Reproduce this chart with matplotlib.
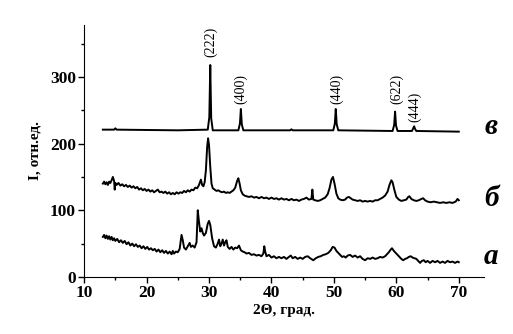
import matplotlib
matplotlib.use('Agg')
import matplotlib.pyplot as plt
import numpy as np
from matplotlib.ticker import MultipleLocator

# Дифрактограми: (2Θ, I)
a_pts = [
    (13.0, 60), (13.2, 63), (13.4, 58), (13.6, 62), (13.8, 57), (14.0, 61), (14.2, 56), (14.4, 60),
    (14.6, 55), (14.8, 58), (15.0, 54), (15.3, 57), (15.6, 52), (15.9, 55), (16.2, 51), (16.5, 54),
    (16.8, 49), (17.1, 52), (17.4, 47), (17.7, 50), (18.0, 46), (18.3, 49), (18.6, 45), (18.9, 47),
    (19.2, 43), (19.5, 46), (19.8, 42), (20.1, 45), (20.4, 41), (20.7, 43), (21.0, 40), (21.3, 42),
    (21.6, 38), (21.9, 41), (22.2, 37), (22.5, 40), (22.8, 36), (23.1, 39), (23.4, 35), (23.7, 38),
    (24.0, 34), (24.2, 39), (24.4, 35), (24.7, 38), (25.0, 37), (25.3, 42), (25.6, 63), (25.8, 55),
    (26.0, 44), (26.3, 41), (26.6, 46), (26.9, 51), (27.1, 45), (27.4, 47), (27.7, 44), (28.0, 52),
    (28.2, 100), (28.4, 82), (28.6, 68), (28.8, 73), (29.0, 66), (29.2, 62), (29.5, 66), (29.8, 80),
    (30.0, 84), (30.2, 78), (30.5, 58), (30.8, 46), (31.1, 44), (31.4, 50), (31.6, 56), (31.8, 46),
    (32.0, 50), (32.2, 56), (32.4, 47), (32.6, 52), (32.8, 55), (33.0, 45), (33.3, 42), (33.6, 45),
    (33.9, 41), (34.2, 44), (34.5, 43), (34.8, 47), (35.1, 40), (35.4, 38), (35.7, 37), (36.0, 35),
    (36.4, 36), (36.8, 33), (37.2, 34), (37.6, 32), (38.0, 33), (38.4, 31), (38.7, 35), (38.85, 46),
    (39.0, 38), (39.2, 31), (39.6, 33), (40.0, 29), (40.4, 31), (40.8, 28), (41.2, 30), (41.6, 28),
    (42.0, 30), (42.4, 27), (42.8, 30), (43.1, 32), (43.4, 28), (43.8, 30), (44.2, 27), (44.6, 29),
    (45.0, 27), (45.4, 30), (45.8, 31), (46.2, 28), (46.7, 25), (47.1, 28), (47.5, 30), (47.9, 31),
    (48.3, 33), (48.7, 34), (49.1, 36), (49.5, 40), (49.8, 45), (50.1, 44), (50.4, 39), (50.7, 36),
    (51.0, 33), (51.3, 30), (51.6, 31), (51.9, 29), (52.2, 32), (52.6, 33), (53.0, 30), (53.4, 32),
    (53.8, 29), (54.2, 31), (54.6, 27), (55.0, 25), (55.4, 28), (55.8, 27), (56.2, 29), (56.6, 27),
    (57.0, 28), (57.4, 30), (57.8, 29), (58.2, 31), (58.5, 34), (58.8, 37), (59.1, 41), (59.3, 43),
    (59.6, 39), (59.9, 36), (60.2, 33), (60.5, 30), (60.8, 27), (61.1, 25), (61.4, 27), (61.7, 28),
    (62.0, 30), (62.3, 31), (62.6, 29), (62.9, 28), (63.2, 27), (63.5, 24), (63.8, 21), (64.1, 24),
    (64.4, 25), (64.7, 22), (65.0, 24), (65.4, 21), (65.8, 24), (66.2, 22), (66.6, 24), (67.0, 21),
    (67.4, 23), (67.8, 21), (68.2, 24), (68.6, 22), (69.0, 23), (69.4, 21), (69.8, 23), (70.0, 22),
]

b_pts = [
    (13.0, 140), (13.2, 143), (13.4, 139), (13.6, 142), (13.8, 138), (14.0, 143), (14.2, 141),
    (14.4, 145), (14.6, 150), (14.8, 144), (14.9, 131), (15.0, 141), (15.2, 138), (15.5, 141),
    (15.8, 137), (16.1, 139), (16.4, 136), (16.7, 138), (17.0, 135), (17.3, 137), (17.6, 134),
    (17.9, 136), (18.2, 133), (18.5, 135), (18.8, 131), (19.1, 133), (19.4, 130), (19.7, 132),
    (20.0, 129), (20.3, 131), (20.6, 128), (20.9, 130), (21.2, 127), (21.5, 129), (21.8, 131),
    (22.1, 127), (22.4, 128), (22.7, 126), (23.0, 128), (23.3, 125), (23.6, 127), (23.9, 124),
    (24.2, 126), (24.5, 124), (24.8, 127), (25.1, 125), (25.4, 127), (25.7, 126), (26.0, 129),
    (26.3, 127), (26.6, 130), (26.9, 128), (27.2, 131), (27.5, 130), (27.8, 134), (28.1, 133),
    (28.4, 138), (28.7, 146), (28.9, 138), (29.1, 136), (29.3, 142), (29.5, 160), (29.7, 195),
    (29.85, 208), (30.0, 198), (30.2, 165), (30.4, 140), (30.6, 133), (30.9, 131), (31.2, 129),
    (31.5, 130), (31.8, 128), (32.1, 127), (32.4, 128), (32.7, 126), (33.0, 127), (33.3, 126),
    (33.6, 128), (33.9, 130), (34.2, 134), (34.5, 144), (34.7, 148), (34.9, 140), (35.1, 130),
    (35.4, 124), (35.7, 122), (36.0, 121), (36.4, 120), (36.8, 121), (37.2, 119), (37.6, 120),
    (38.0, 118), (38.4, 120), (38.8, 118), (39.2, 119), (39.6, 117), (40.0, 119), (40.4, 117),
    (40.8, 118), (41.2, 116), (41.6, 118), (42.0, 116), (42.4, 117), (42.8, 115), (43.2, 117),
    (43.6, 115), (44.0, 116), (44.4, 114), (44.8, 116), (45.2, 117), (45.6, 119), (46.0, 116),
    (46.4, 117), (46.55, 131), (46.7, 116), (47.0, 115), (47.4, 114), (47.8, 115), (48.2, 117),
    (48.6, 119), (49.0, 124), (49.3, 133), (49.6, 146), (49.85, 150), (50.1, 140), (50.4, 125),
    (50.7, 118), (51.0, 116), (51.4, 115), (51.8, 116), (52.1, 119), (52.4, 120), (52.7, 118),
    (53.0, 116), (53.4, 115), (53.8, 114), (54.2, 115), (54.6, 113), (55.0, 114), (55.4, 113),
    (55.8, 114), (56.2, 113), (56.6, 115), (57.0, 115), (57.4, 117), (57.8, 119), (58.2, 122),
    (58.6, 128), (58.9, 138), (59.2, 145), (59.4, 142), (59.7, 130), (60.0, 120), (60.4, 116),
    (60.8, 114), (61.2, 115), (61.6, 116), (61.9, 120), (62.1, 121), (62.4, 117), (62.8, 115),
    (63.2, 114), (63.6, 115), (64.0, 117), (64.3, 118), (64.6, 115), (65.0, 113), (65.5, 112),
    (66.0, 113), (66.5, 112), (67.0, 111), (67.5, 112), (68.0, 111), (68.5, 112), (69.0, 111),
    (69.5, 113), (69.8, 117), (70.0, 115),
]

v_pts = [
    (13.0, 221), (14.8, 221), (15.0, 223), (15.2, 221), (20.0, 220.5), (25.0, 220), (29.8, 221),
    (30.05, 240), (30.2, 318), (30.35, 238), (30.6, 220), (34.7, 220), (34.95, 230), (35.1, 252),
    (35.25, 229), (35.5, 220), (43.0, 220), (43.2, 221.5), (43.4, 220), (49.9, 220), (50.15, 230),
    (50.3, 252), (50.45, 229), (50.7, 220), (59.4, 219), (59.65, 228), (59.8, 248), (59.95, 227),
    (60.2, 219), (62.5, 219), (62.7, 223), (62.85, 226), (63.0, 222), (63.2, 219), (70.0, 218),
]

# Індекси рефлексів та позиції підписів
hkl_labels = ['(222)', '(400)', '(440)', '(622)', '(444)']
hkl_x = [30.2, 35.0, 50.4, 60.0, 62.9]
hkl_y = [352, 282, 282, 282, 255]

curve_names = ['а', 'б', 'в']
curve_name_y = [30, 118, 225]

x_a, y_a = np.array(a_pts).T
x_b, y_b = np.array(b_pts).T
x_v, y_v = np.array(v_pts).T

plt.rcParams['font.family'] = ['Liberation Serif', 'DejaVu Serif']

fig = plt.figure(figsize=(5.13, 3.34), dpi=100)
ax = fig.add_axes([0.164, 0.171, 0.779, 0.754])

for x, y in [(x_a, y_a), (x_b, y_b), (x_v, y_v)]:
    ax.plot(x, y, color='black', linewidth=1.4)

for lab, x, y in zip(hkl_labels, hkl_x, hkl_y):
    ax.text(x, y, lab, rotation=90, ha='center', va='center', fontsize=10)

for name, y in zip(curve_names, curve_name_y):
    ax.text(75.2, y, name, ha='center', va='center', fontsize=21,
            fontweight='bold', fontstyle='italic')

ax.set_xlim(10, 74)
ax.set_ylim(0, 378)
ax.xaxis.set_major_locator(MultipleLocator(10))
ax.xaxis.set_minor_locator(MultipleLocator(5))
ax.yaxis.set_major_locator(MultipleLocator(100))
ax.yaxis.set_minor_locator(MultipleLocator(50))
ax.tick_params(which='major', direction='out', length=4, width=1, labelsize=12.5, pad=2)
ax.tick_params(which='minor', direction='out', length=2.5, width=1)
for lbl in ax.get_xticklabels() + ax.get_yticklabels():
    lbl.set_fontweight('bold')

ax.spines['top'].set_visible(False)
ax.spines['right'].set_visible(False)

ax.set_xlabel('2Θ, град.', fontsize=11, fontweight='bold', labelpad=2)
ax.set_ylabel('I, отн.ед.', fontsize=11, fontweight='bold', labelpad=6)

fig.savefig('out.png', dpi=100)
